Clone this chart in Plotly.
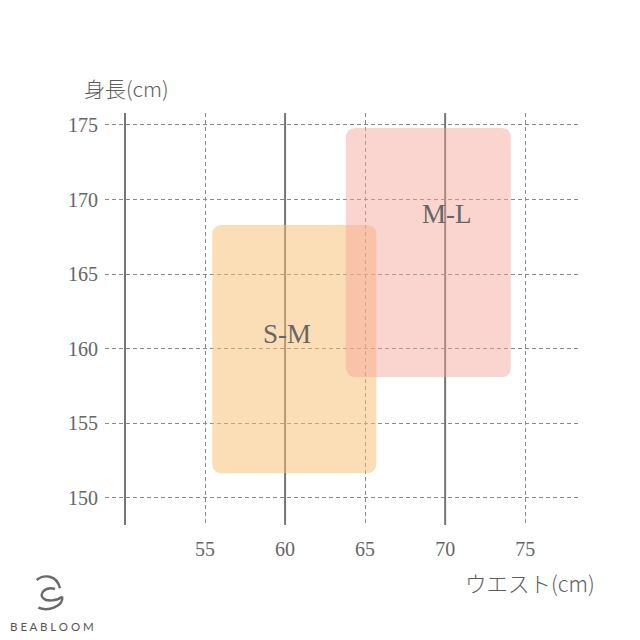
import plotly.graph_objects as go

# ---- data ----
size_labels = ["S-M", "M-L"]
waist_min = [55.45, 63.8]
waist_max = [65.7, 74.1]
height_min = [151.65, 158.1]
height_max = [168.3, 174.8]
label_x = [60.15, 70.1]
label_y = [161.0, 169.0]
box_colors = ["rgb(247,190,110)", "rgb(244,162,150)"]
box_opacity = [0.5, 0.45]

x_ticks = [55, 60, 65, 70, 75]
y_ticks = [150, 155, 160, 165, 170, 175]
guide_x = [50, 60, 70]

X_RANGE = [48.75, 78.3]
Y_RANGE = [148.19, 175.8]

OFF = 8  # page body margin
W, H = 640 - OFF, 640 - OFF
ML, MT = 105 - OFF, 113 - OFF
PW, PH = 473, 412
MR, MB = W - ML - PW, H - MT - PH

SERIF = "Liberation Serif, Noto Sans CJK JP, serif"
JP = "Noto Sans CJK JP, sans-serif"
TXT = "#666666"


def rounded_rect(x0, x1, y0, y1, rx, ry):
    return (f"M {x0+rx},{y0} L {x1-rx},{y0} Q {x1},{y0} {x1},{y0+ry} "
            f"L {x1},{y1-ry} Q {x1},{y1} {x1-rx},{y1} "
            f"L {x0+rx},{y1} Q {x0},{y1} {x0},{y1-ry} "
            f"L {x0},{y0+ry} Q {x0},{y0} {x0+rx},{y0} Z")


def px2paper(px, py):
    px -= OFF
    py -= OFF
    return (px - ML) / PW, (MT + PH - py) / PH


fig = go.Figure()
fig.add_trace(go.Scatter(x=[None], y=[None], showlegend=False, hoverinfo="skip"))

shapes = []
# solid vertical guide lines
for gx in guide_x:
    shapes.append(dict(type="line", xref="x", yref="paper", x0=gx, x1=gx, y0=0, y1=1,
                       line=dict(color="#767676", width=2), layer="above"))

# rounded size boxes
rx = 10 * (X_RANGE[1] - X_RANGE[0]) / PW
ry = 10 * (Y_RANGE[1] - Y_RANGE[0]) / PH
for i in range(len(size_labels)):
    shapes.append(dict(type="path", xref="x", yref="y",
                       path=rounded_rect(waist_min[i], waist_max[i], height_min[i], height_max[i], rx, ry),
                       fillcolor=box_colors[i], opacity=box_opacity[i],
                       line=dict(width=0), layer="above"))


# logo icon (paper coords from pixel positions)
def path_px(cmds):
    out = []
    for c in cmds:
        if isinstance(c, str):
            out.append(c)
        else:
            x, y = px2paper(*c)
            out.append(f"{x:.5f},{y:.5f}")
    return " ".join(out)


logo_paths = [
    ["M", (36.7, 580), "C", (43.3, 574.3), (56.7, 574.3), (60, 588.3)],
    ["M", (55, 589), "C", (45, 585.7), (38.3, 595), (43.3, 598.3),
     "C", (46.7, 601.7), (56.7, 601), (62.3, 596.7)],
    ["M", (62.3, 596.7), "C", (63.3, 606.7), (48.3, 611.7), (38.3, 607.7)],
]
for p in logo_paths:
    shapes.append(dict(type="path", xref="paper", yref="paper", path=path_px(p),
                       line=dict(color="#6a6a6a", width=2.4), layer="above"))

annotations = []
for i, lab in enumerate(size_labels):
    annotations.append(dict(x=label_x[i], y=label_y[i], xref="x", yref="y", text=lab,
                            showarrow=False, xanchor="center", yanchor="middle",
                            font=dict(family=SERIF, size=27, color=TXT)))


def add_text(px, py, text, font):
    tx, ty = px2paper(px, py)
    annotations.append(dict(x=tx, y=ty, xref="paper", yref="paper", text=text, showarrow=False,
                            xanchor="center", yanchor="middle", font=font))


add_text(126, 88, "身長(cm)", dict(family=JP, size=21, color="#5e5e5e", weight=300))
add_text(530, 582, "ウエスト(cm)", dict(family=JP, size=21.5, color="#5e5e5e", weight=300))
add_text(52, 626, "B E A B L O O M", dict(family="Lato, sans-serif", size=11.5, color="#555555"))

fig.update_layout(
    width=W, height=H,
    margin=dict(l=ML, r=MR, t=MT, b=MB, autoexpand=False),
    plot_bgcolor="white", paper_bgcolor="white",
    showlegend=False,
    shapes=shapes,
    annotations=annotations,
    xaxis=dict(range=X_RANGE, tickmode="array", tickvals=x_ticks, ticktext=[str(v) for v in x_ticks],
               showgrid=True, gridcolor="#8a8a8a", griddash="4px,3px", gridwidth=1,
               zeroline=False, showline=False, ticks="", ticklabelstandoff=10,
               tickfont=dict(family=SERIF, size=20, color=TXT), fixedrange=True),
    yaxis=dict(range=Y_RANGE, tickmode="array", tickvals=y_ticks, ticktext=[str(v) for v in y_ticks],
               showgrid=True, gridcolor="#8a8a8a", griddash="4px,3px", gridwidth=1,
               zeroline=False, showline=False, ticks="", ticklabelstandoff=6,
               tickfont=dict(family=SERIF, size=20, color=TXT), fixedrange=True),
)

fig.write_html("out.html")
